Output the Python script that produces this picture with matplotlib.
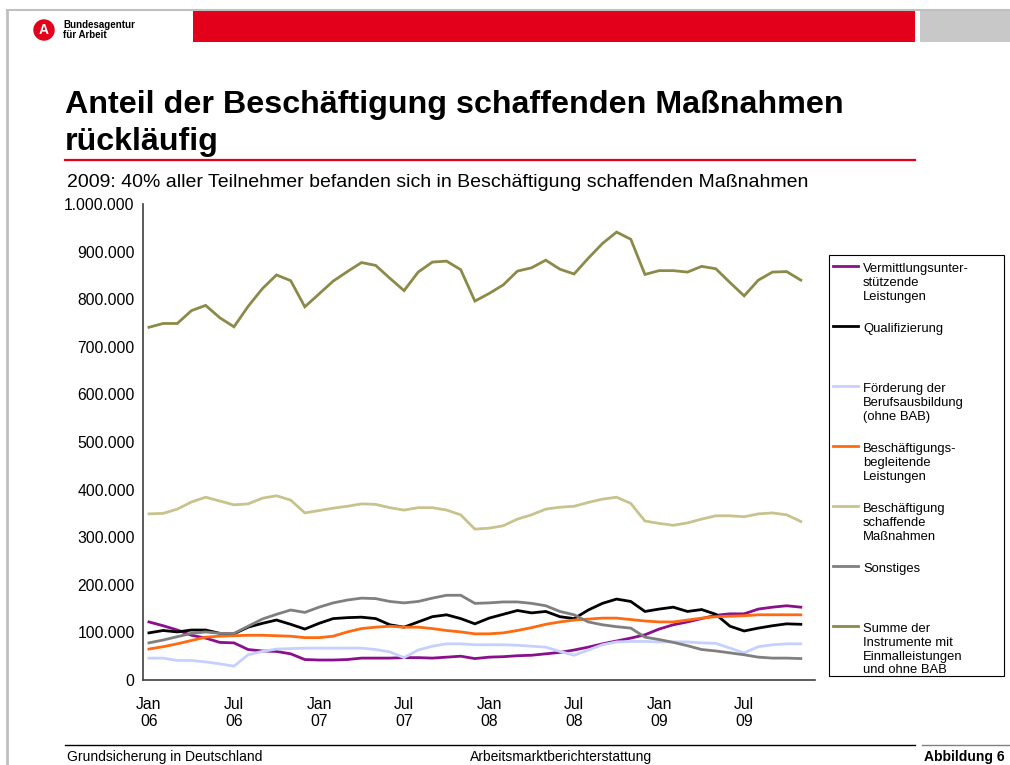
import matplotlib.pyplot as plt
from matplotlib.lines import Line2D
from matplotlib.patches import Rectangle, Ellipse

plt.rcParams["font.family"] = ["Liberation Sans", "DejaVu Sans"]

# months Jan 06 .. Nov 09
n_months = 47
tick_pos = [0, 6, 12, 18, 24, 30, 36, 42]
tick_labels = ["Jan\n06", "Jul\n06", "Jan\n07", "Jul\n07", "Jan\n08", "Jul\n08", "Jan\n09", "Jul\n09"]

vermittlung = [122, 114, 105, 94, 88, 79, 78, 64, 61, 60, 55, 43, 42, 42, 43, 46, 46, 46, 47, 47,
               46, 48, 50, 45, 48, 49, 51, 52, 55, 58, 63, 69, 76, 82, 88, 95, 107, 116, 122, 129,
               136, 139, 139, 149, 153, 156, 153]
qualifizierung = [99, 104, 101, 105, 105, 98, 97, 111, 119, 126, 117, 107, 119, 129, 131, 132, 129, 116, 111, 122,
                  133, 137, 129, 118, 130, 138, 146, 141, 144, 133, 129, 147, 161, 170, 165, 144, 149, 153, 144, 148,
                  138, 113, 103, 109, 114, 118, 117]
foerderung = [46, 46, 41, 41, 38, 34, 29, 53, 60, 65, 66, 67, 67, 67, 67, 67, 64, 59, 47, 63,
              71, 76, 76, 74, 74, 74, 73, 71, 69, 60, 52, 63, 74, 80, 81, 81, 80, 80, 80, 78,
              77, 67, 57, 70, 74, 76, 76]
begleitend = [65, 70, 76, 83, 90, 92, 93, 94, 94, 93, 92, 89, 89, 92, 101, 108, 111, 113, 111, 111,
              108, 104, 101, 97, 97, 99, 104, 110, 117, 122, 126, 128, 130, 130, 127, 124, 122, 122, 126, 130,
              133, 134, 135, 137, 137, 137, 137]
schaffend = [349, 350, 359, 374, 384, 376, 368, 370, 382, 387, 378, 351, 356, 361, 365, 370, 369, 362, 357, 362,
             362, 357, 347, 317, 319, 324, 338, 347, 359, 363, 365, 373, 380, 384, 371, 334, 329, 325, 330, 338,
             345, 345, 343, 349, 351, 347, 333]
sonstiges = [78, 84, 91, 98, 101, 98, 98, 113, 128, 138, 147, 142, 153, 162, 168, 172, 171, 165, 162, 165,
             172, 178, 178, 161, 162, 164, 164, 161, 156, 144, 137, 122, 116, 112, 109, 90, 85, 79, 72, 64,
             61, 57, 53, 48, 46, 46, 45]
summe = [741, 749, 749, 776, 787, 761, 742, 785, 822, 851, 839, 784, 811, 838, 858, 877, 871, 844, 818, 857,
         878, 880, 862, 796, 812, 830, 859, 866, 882, 863, 853, 886, 917, 941, 926, 852, 860, 860, 857, 869,
         864, 835, 807, 840, 857, 858, 840]

series_names = ["Vermittlungsunter-\nstützende\nLeistungen", "Qualifizierung",
                "Förderung der\nBerufsausbildung\n(ohne BAB)", "Beschäftigungs-\nbegleitende\nLeistungen",
                "Beschäftigung\nschaffende\nMaßnahmen", "Sonstiges",
                "Summe der\nInstrumente mit\nEinmalleistungen\nund ohne BAB"]
series_values = [vermittlung, qualifizierung, foerderung, begleitend, schaffend, sonstiges, summe]
series_colors = ["#8b0f8b", "#000000", "#c6d0ff", "#ff6a10", "#c8c38e", "#7f7f7f", "#8c8a48"]

W, H = 1010, 765
fig = plt.figure(figsize=(W / 100, H / 100), dpi=100)


def fx(x):
    return x / W


def fy(y):
    return 1 - y / H


# slide frame and header
fig.add_artist(Line2D([fx(7), fx(7)], [fy(10), 0], color="#c0c0c0", lw=2))
fig.add_artist(Line2D([fx(7), 1], [fy(10), fy(10)], color="#c0c0c0", lw=1.5))
fig.add_artist(Rectangle((fx(193), fy(42)), fx(915) - fx(193), fy(11) - fy(42), color="#e2001a", lw=0))
fig.add_artist(Rectangle((fx(920), fy(42)), 1 - fx(920), fy(11) - fy(42), color="#c8c8c8", lw=0))
fig.add_artist(Ellipse((fx(44), fy(30)), 20 / W, 20 / H, color="#e2001a"))
fig.text(fx(44), fy(30), "A", color="white", fontsize=10, fontweight="bold", ha="center", va="center")
fig.text(fx(63), fy(30), "Bundesagentur\nfür Arbeit", fontsize=7, fontweight="bold",
         ha="left", va="center", linespacing=0.95)

fig.text(fx(65), fy(113), "Anteil der Beschäftigung schaffenden Maßnahmen", fontsize=23.2,
         fontweight="bold", va="baseline")
fig.text(fx(65), fy(150), "rückläufig", fontsize=23.2, fontweight="bold", va="baseline")
fig.add_artist(Line2D([fx(65), fx(915)], [fy(160), fy(160)], color="#e2001a", lw=1.6))
fig.text(fx(67), fy(187), "2009: 40% aller Teilnehmer befanden sich in Beschäftigung schaffenden Maßnahmen",
         fontsize=14, va="baseline")

# chart
ax = fig.add_axes([fx(143), fy(680), fx(815) - fx(143), fy(204) - fy(680)])
months = list(range(n_months))
for vals, color in zip(series_values, series_colors):
    ax.plot(months, [v * 1000 for v in vals], color=color, lw=2, solid_joinstyle="miter")

ax.set_xlim(-0.42, 47.0)
ax.set_ylim(0, 1000000)
ax.set_yticks(range(0, 1000001, 100000))
ax.set_yticklabels(["0"] + [f"{v:,}".replace(",", ".") for v in range(100000, 1000001, 100000)])
ax.set_xticks(tick_pos)
ax.set_xticklabels(tick_labels)
ax.tick_params(axis="both", length=0, labelsize=11.3)
ax.tick_params(axis="y", pad=6)
ax.tick_params(axis="x", pad=12)
for s in ["top", "right"]:
    ax.spines[s].set_visible(False)
for s in ["left", "bottom"]:
    ax.spines[s].set_color("#404040")
    ax.spines[s].set_linewidth(1.2)

# legend box
fig.add_artist(Rectangle((fx(829), fy(676)), fx(1004) - fx(829), fy(255) - fy(676),
                         facecolor="white", edgecolor="black", lw=0.8))
for i, (name, color) in enumerate(zip(series_names, series_colors)):
    y = 266 + i * 60
    fig.add_artist(Line2D([fx(833), fx(858)], [fy(y), fy(y)], color=color, lw=2))
    fig.text(fx(863), fy(y - 3), name, fontsize=9.4, va="top", ha="left", linespacing=1.2)

# footer
fig.add_artist(Line2D([fx(65), fx(915)], [fy(745), fy(745)], color="black", lw=1))
fig.add_artist(Line2D([fx(922), 1], [fy(745), fy(745)], color="#808080", lw=1))
fig.text(fx(67), fy(757), "Grundsicherung in Deutschland", fontsize=10, va="center")
fig.text(fx(561), fy(757), "Arbeitsmarktberichterstattung", fontsize=10, va="center", ha="center")
fig.text(fx(1005), fy(757), "Abbildung 6", fontsize=10, fontweight="bold", va="center", ha="right")

fig.savefig("out.png", dpi=100)
